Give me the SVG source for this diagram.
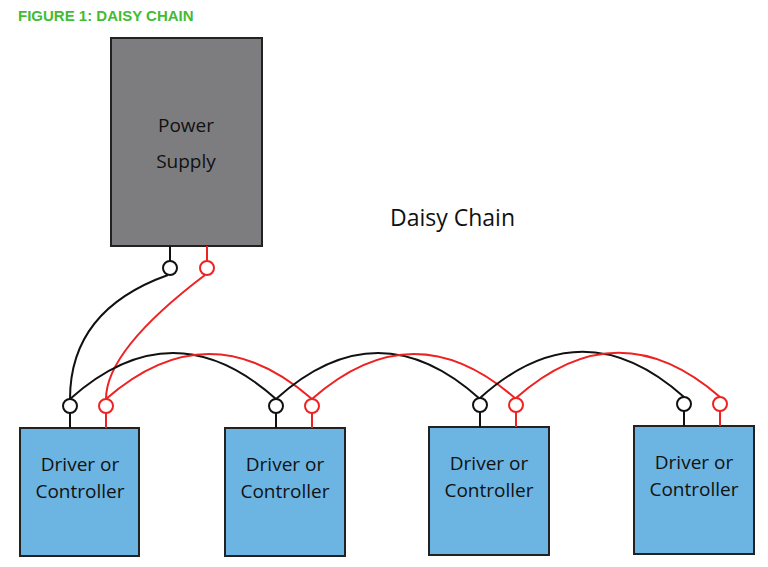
<svg xmlns="http://www.w3.org/2000/svg" width="768" height="567" viewBox="0 0 768 567">
<style>
.b{fill:none;stroke:#111;stroke-width:2}
.r{fill:none;stroke:#ee2222;stroke-width:2}
.tb{fill:#fff;stroke:#111;stroke-width:2}
.tr{fill:#fff;stroke:#ee2222;stroke-width:2}
.drv{fill:#6cb4e2;stroke:#222;stroke-width:2}
.dt{font-family:"Open Sans",sans-serif;font-size:19px;fill:#111;text-anchor:middle}
</style>
<rect width="768" height="567" fill="#fff"/>
<text x="18" y="21" font-family="Liberation Sans,sans-serif" font-weight="bold" font-size="15" fill="#44bb33">FIGURE 1: DAISY CHAIN</text>
<text x="390" y="226" font-family="Open Sans,sans-serif" font-size="23" fill="#111">Daisy Chain</text>
<g id="power">
<rect x="111" y="38" width="151" height="208" fill="#7d7d80" stroke="#222" stroke-width="2"/>
<text x="186" y="132" class="dt" font-size="25">Power</text>
<text x="186" y="168" class="dt" font-size="25">Supply</text>
<line x1="170" y1="246" x2="170" y2="261" class="b"/><line x1="207" y1="246" x2="207" y2="261" class="r"/>
<circle cx="170" cy="268" r="7" class="tb"/><circle cx="207" cy="268" r="7" class="tr"/>
</g>
<g id="connectors">
<path d="M168 275 Q70 310 70 399" class="b"/>
<path d="M205 275 Q106 350 106 399" class="r"/>
<path d="M70 399 Q173 307 276 399" class="b"/>
<path d="M106 399 Q209 309 312 399" class="r"/>
<path d="M276 399 Q378 307 480 399" class="b"/>
<path d="M312 399 Q414 309 516 399" class="r"/>
<path d="M480 398 Q582 306 684 397" class="b"/>
<path d="M516 398 Q618 308 720 397" class="r"/>
</g>
<g id="d1"><rect x="20" y="428" width="119" height="128" class="drv"/>
<line x1="70" y1="413" x2="70" y2="428" class="b"/><line x1="106" y1="413" x2="106" y2="428" class="r"/>
<circle cx="70" cy="406" r="7" class="tb"/><circle cx="106" cy="406" r="7" class="tr"/>
<text x="80" y="471" class="dt">Driver or</text><text x="80" y="498" class="dt">Controller</text></g>
<g id="d2"><rect x="225" y="428" width="120" height="128" class="drv"/>
<line x1="276" y1="413" x2="276" y2="428" class="b"/><line x1="312" y1="413" x2="312" y2="428" class="r"/>
<circle cx="276" cy="406" r="7" class="tb"/><circle cx="312" cy="406" r="7" class="tr"/>
<text x="285" y="471" class="dt">Driver or</text><text x="285" y="498" class="dt">Controller</text></g>
<g id="d3"><rect x="429" y="427" width="120" height="128" class="drv"/>
<line x1="480" y1="412" x2="480" y2="427" class="b"/><line x1="516" y1="412" x2="516" y2="427" class="r"/>
<circle cx="480" cy="405" r="7" class="tb"/><circle cx="516" cy="405" r="7" class="tr"/>
<text x="489" y="470" class="dt">Driver or</text><text x="489" y="497" class="dt">Controller</text></g>
<g id="d4"><rect x="634" y="426" width="120" height="128" class="drv"/>
<line x1="684" y1="411" x2="684" y2="426" class="b"/><line x1="720" y1="411" x2="720" y2="426" class="r"/>
<circle cx="684" cy="404" r="7" class="tb"/><circle cx="720" cy="404" r="7" class="tr"/>
<text x="694" y="469" class="dt">Driver or</text><text x="694" y="496" class="dt">Controller</text></g>
</svg>
